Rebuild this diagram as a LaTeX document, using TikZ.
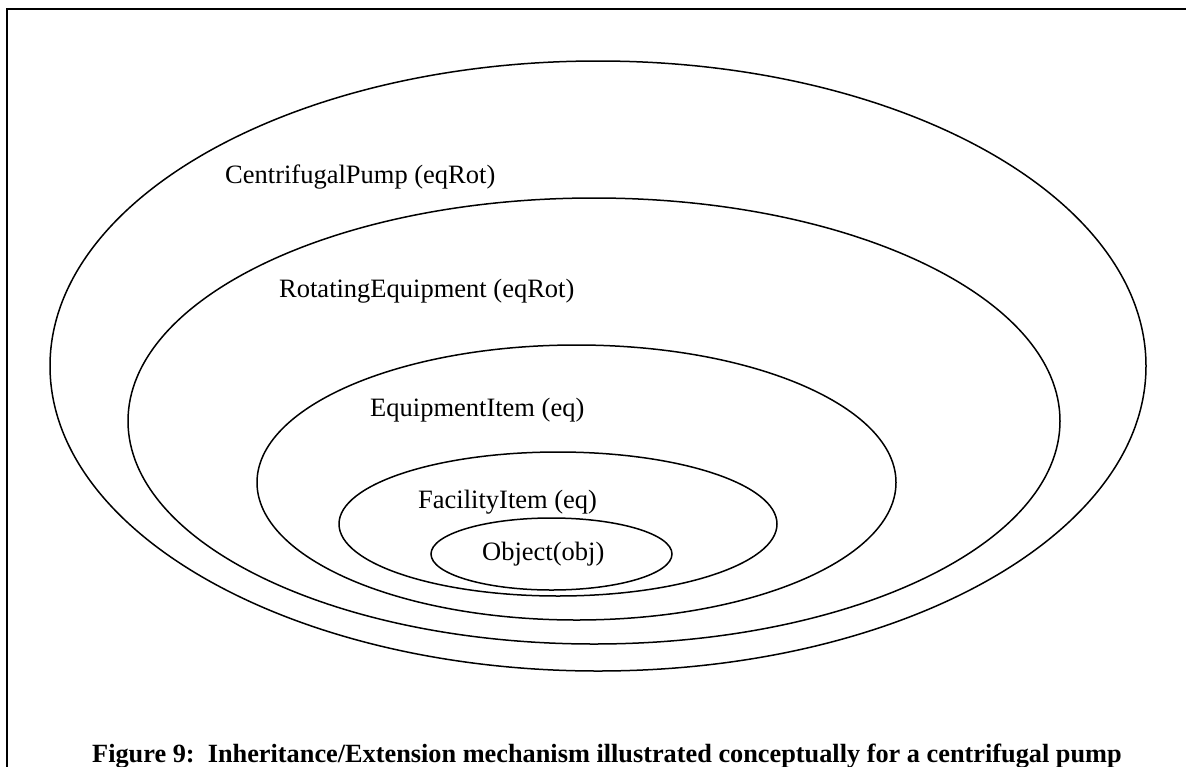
\documentclass[tikz,border=0pt]{standalone}
\usepackage{fontspec}
\setmainfont{Liberation Serif}
\begin{document}
\begin{tikzpicture}[x=1pt,y=-1pt,
  ring/.style={line width=1.5pt},
  lbl/.style={anchor=base west,inner sep=0pt,font=\fontsize{26.5}{30}\selectfont},
  captext/.style={anchor=base west,inner sep=0pt,font=\fontsize{26.3}{30}\selectfont\bfseries}]
\useasboundingbox (0,0) rectangle (1186,766);
\clip (0,0) rectangle (1186,766);
\fill[white] (0,0) rectangle (1186,766);
% frame
\coordinate (fbl) at (7,780);
\coordinate (ftl) at (7,9);
\coordinate (ftr) at (1200,9);
\draw[line width=2pt] (fbl) -- (ftl) -- (ftr);
% ellipses
\draw[ring] (598,366) ellipse (548 and 305);
\draw[ring] (594,421) ellipse (466 and 223);
\draw[ring] (576.5,482.5) ellipse (319.5 and 137.5);
\draw[ring] (558,524) ellipse (219 and 72);
\draw[ring] (551.5,554) ellipse (120.5 and 36);
% labels
\node[lbl] (cp) at (225,183) {CentrifugalPump (eqRot)};
\node[lbl] (re) at (279,297) {RotatingEquipment (eqRot)};
\node[lbl] (ei) at (370,416) {EquipmentItem (eq)};
\node[lbl] (fi) at (418,508) {FacilityItem (eq)};
\node[lbl] (ob) at (482,560) {Object(obj)};
\node[captext] (caption) at (92,762) {Figure 9:\ \ Inheritance/Extension mechanism illustrated conceptually for a centrifugal pump};
\end{tikzpicture}
\end{document}
